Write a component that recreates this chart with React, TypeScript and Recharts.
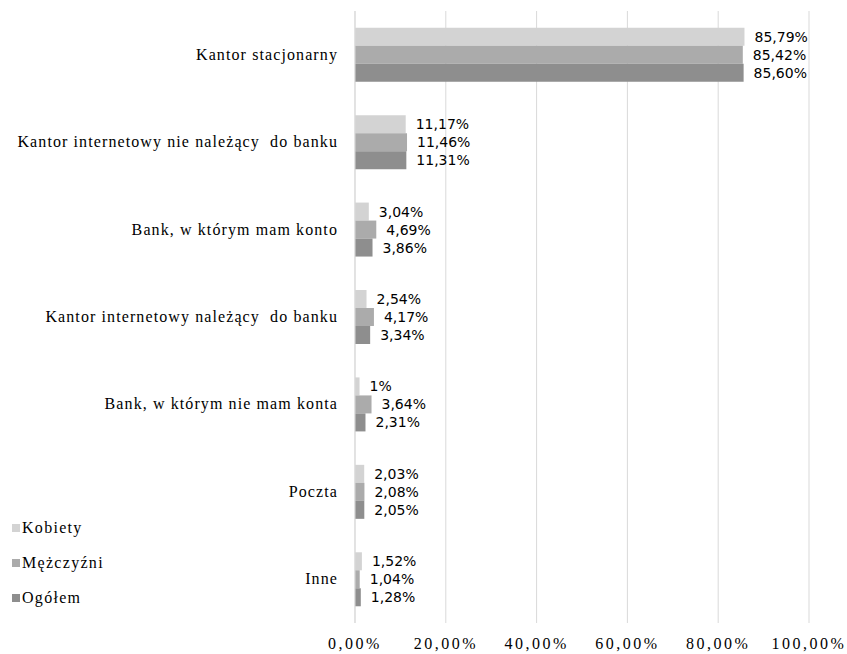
import React from "react";
import { BarChart, Bar, XAxis, YAxis, CartesianGrid, LabelList } from "recharts";

const categories = [
  "Kantor stacjonarny",
  "Kantor internetowy nie należący  do banku",
  "Bank, w którym mam konto",
  "Kantor internetowy należący  do banku",
  "Bank, w którym nie mam konta",
  "Poczta",
  "Inne",
];
const kobiety = [85.79, 11.17, 3.04, 2.54, 1, 2.03, 1.52];
const mezczyzni = [85.42, 11.46, 4.69, 4.17, 3.64, 2.08, 1.04];
const ogolem = [85.6, 11.31, 3.86, 3.34, 2.31, 2.05, 1.28];
const xTicks = [0, 20, 40, 60, 80, 100];

const seriesNames = ["Kobiety", "Mężczyźni", "Ogółem"];
const colors = ["#d3d3d3", "#ababab", "#8e8e8e"];

const data = categories.map((c, i) => ({
  name: c,
  k: kobiety[i],
  m: mezczyzni[i],
  o: ogolem[i],
}));

const fmtVal = (v: number) =>
  Number.isInteger(v) ? `${v}%` : `${v.toFixed(2).replace(".", ",")}%`;
const fmtTick = (v: number) => `${v.toFixed(2).replace(".", ",")}%`;

const serif = "'Liberation Serif', 'Times New Roman', serif";
const sans = "'DejaVu Sans', Verdana, sans-serif";

const XTick = (props: any) => {
  const { x, y, payload } = props;
  return (
    <text
      x={x}
      y={y}
      dy={12}
      textAnchor="middle"
      style={{ fontFamily: serif, fontSize: 16, fill: "#000", letterSpacing: "2.5px" }}
    >
      {fmtTick(payload.value)}
    </text>
  );
};

const YTick = (props: any) => {
  const { x, y, payload } = props;
  return (
    <text
      x={x}
      y={y}
      dy={5}
      textAnchor="end"
      style={{ fontFamily: serif, fontSize: 16, fill: "#000", letterSpacing: "1.1px", whiteSpace: "pre" }}
    >
      {payload.value}
    </text>
  );
};

const labelStyle = { fontFamily: sans, fontSize: 14, fill: "#000" };

export default function App() {
  return (
    <div style={{ position: "absolute", left: 0, top: 0, width: 847, height: 654, background: "#fff" }}>
      <BarChart
        width={847}
        height={654}
        data={data}
        layout="vertical"
        margin={{ top: 11, right: 38, bottom: 0, left: 0 }}
        barCategoryGap={16.7}
        barGap={0}
      >
        <CartesianGrid horizontal={false} stroke="#d9d9d9" />
        <XAxis
          type="number"
          domain={[0, 100]}
          ticks={xTicks}
          axisLine={false}
          tickLine={false}
          tickSize={6}
          tickMargin={8}
          height={31}
          interval={0}
          tick={<XTick />}
        />
        <YAxis
          type="category"
          dataKey="name"
          width={355}
          axisLine={{ stroke: "#d9d9d9" }}
          tickLine={false}
          tickSize={0}
          tickMargin={17}
          interval={0}
          tick={<YTick />}
        />
        <Bar dataKey="k" name={seriesNames[0]} fill={colors[0]} isAnimationActive={false}>
          <LabelList dataKey="k" position="right" offset={10} formatter={fmtVal} style={labelStyle} />
        </Bar>
        <Bar dataKey="m" name={seriesNames[1]} fill={colors[1]} isAnimationActive={false}>
          <LabelList dataKey="m" position="right" offset={10} formatter={fmtVal} style={labelStyle} />
        </Bar>
        <Bar dataKey="o" name={seriesNames[2]} fill={colors[2]} isAnimationActive={false}>
          <LabelList dataKey="o" position="right" offset={10} formatter={fmtVal} style={labelStyle} />
        </Bar>
      </BarChart>
      <div
        style={{
          position: "absolute",
          left: 12,
          top: 510,
          fontFamily: serif,
          fontSize: 16,
          letterSpacing: "1.3px",
          color: "#000",
        }}
      >
        {seriesNames.map((n, i) => (
          <div key={n} style={{ display: "flex", alignItems: "center", height: 35 }}>
            <span
              style={{
                display: "inline-block",
                width: 8,
                height: 8,
                background: colors[i],
                marginRight: 2,
              }}
            />
            <span>{n}</span>
          </div>
        ))}
      </div>
    </div>
  );
}
